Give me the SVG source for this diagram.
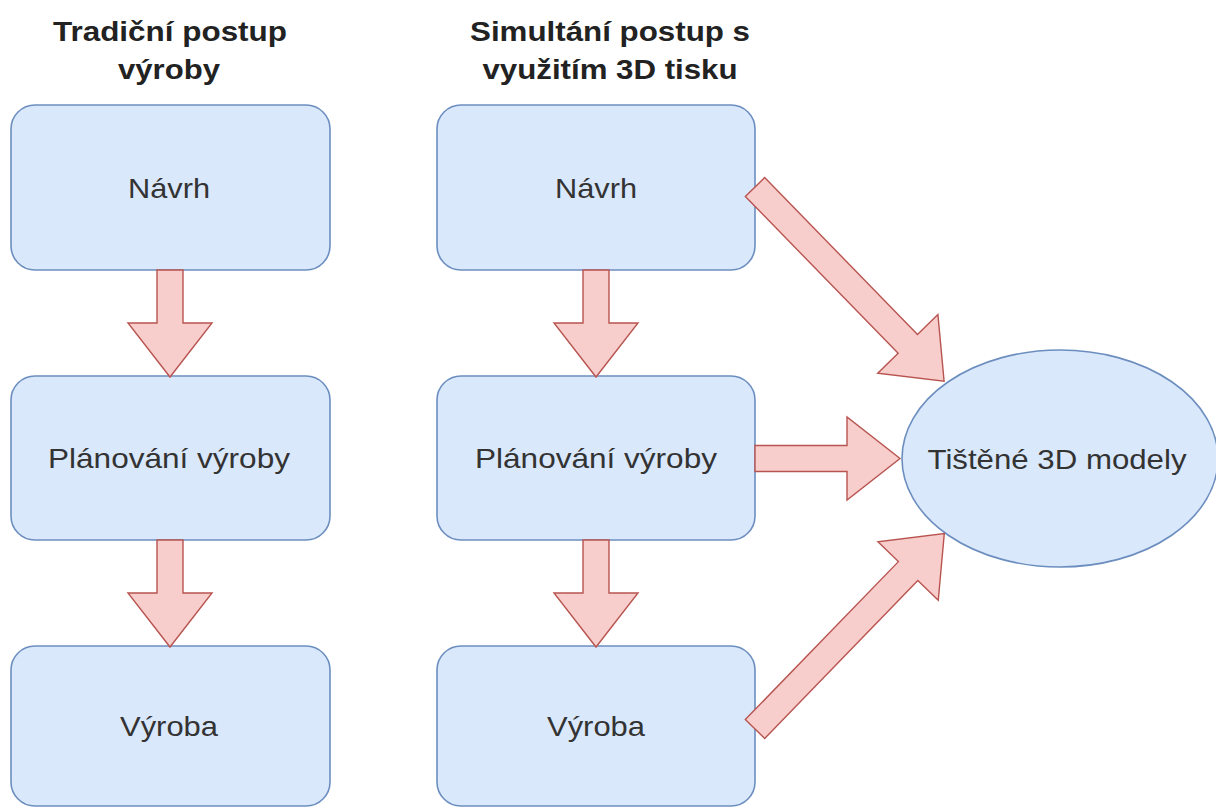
<svg xmlns="http://www.w3.org/2000/svg" width="1216" height="808" viewBox="0 0 1216 808">
<style>
.box{fill:#dae8fc;stroke:#6c8ebf;stroke-width:1.6}
.arr{fill:#f8cecc;stroke:#b85450;stroke-width:1.4;stroke-linejoin:miter}
text{font-family:"Liberation Sans",Arial,sans-serif;font-size:28px;fill:#333333;text-anchor:middle}
.title{font-weight:bold;fill:#222222}
</style>
<rect width="1216" height="808" fill="#ffffff"/>
<g id="title-left">
<text class="title" x="170" y="41" textLength="234" lengthAdjust="spacingAndGlyphs">Tradiční postup</text>
<text class="title" x="169" y="79" textLength="102" lengthAdjust="spacingAndGlyphs">výroby</text>
</g>
<g id="title-right">
<text class="title" x="610" y="41" textLength="280" lengthAdjust="spacingAndGlyphs">Simultání postup s</text>
<text class="title" x="610" y="79" textLength="255" lengthAdjust="spacingAndGlyphs">využitím 3D tisku</text>
</g>
<g id="l-navrh">
<rect class="box" x="11" y="105" width="319" height="165" rx="24"/>
<text x="169" y="198" textLength="82" lengthAdjust="spacingAndGlyphs">Návrh</text>
</g>
<g id="l-planovani">
<rect class="box" x="11" y="376" width="319" height="164" rx="24"/>
<text x="169" y="468" textLength="242" lengthAdjust="spacingAndGlyphs">Plánování výroby</text>
</g>
<g id="l-vyroba">
<rect class="box" x="11" y="646" width="319" height="160" rx="24"/>
<text x="169" y="736" textLength="98" lengthAdjust="spacingAndGlyphs">Výroba</text>
</g>
<g id="r-navrh">
<rect class="box" x="437" y="105" width="318" height="165" rx="24"/>
<text x="596" y="198" textLength="82" lengthAdjust="spacingAndGlyphs">Návrh</text>
</g>
<g id="r-planovani">
<rect class="box" x="437" y="376" width="318" height="164" rx="24"/>
<text x="596" y="468" textLength="242" lengthAdjust="spacingAndGlyphs">Plánování výroby</text>
</g>
<g id="r-vyroba">
<rect class="box" x="437" y="646" width="318" height="160" rx="24"/>
<text x="596" y="736" textLength="98" lengthAdjust="spacingAndGlyphs">Výroba</text>
</g>
<g id="modely">
<ellipse class="box" cx="1060" cy="458.5" rx="158" ry="108.5"/>
<text x="1057" y="469" textLength="259" lengthAdjust="spacingAndGlyphs">Tištěné 3D modely</text>
</g>
<g id="connectors">
<path class="arr" d="M157,270 L183,270 L183,323 L212,323 L170,377 L128,323 L157,323 Z"/>
<path class="arr" d="M157,540 L183,540 L183,593 L212,593 L170,647 L128,593 L157,593 Z"/>
<path class="arr" d="M583,270 L609,270 L609,323 L638,323 L596,377 L554,323 L583,323 Z"/>
<path class="arr" d="M583,540 L609,540 L609,593 L638,593 L596,647 L554,593 L583,593 Z"/>
<path class="arr" d="M755,445.5 L847,445.5 L847,417 L900,458.5 L847,500 L847,471.5 L755,471.5 Z"/>
<path class="arr" transform="translate(755,187) rotate(45.75)" d="M0,-13.5 L219,-13.5 L219,-42 L271,0 L219,42 L219,13.5 L0,13.5 Z"/>
<path class="arr" transform="translate(755,729) rotate(-45.9)" d="M0,-13.5 L220,-13.5 L220,-42 L272,0 L220,42 L220,13.5 L0,13.5 Z"/>
</g>
</svg>
